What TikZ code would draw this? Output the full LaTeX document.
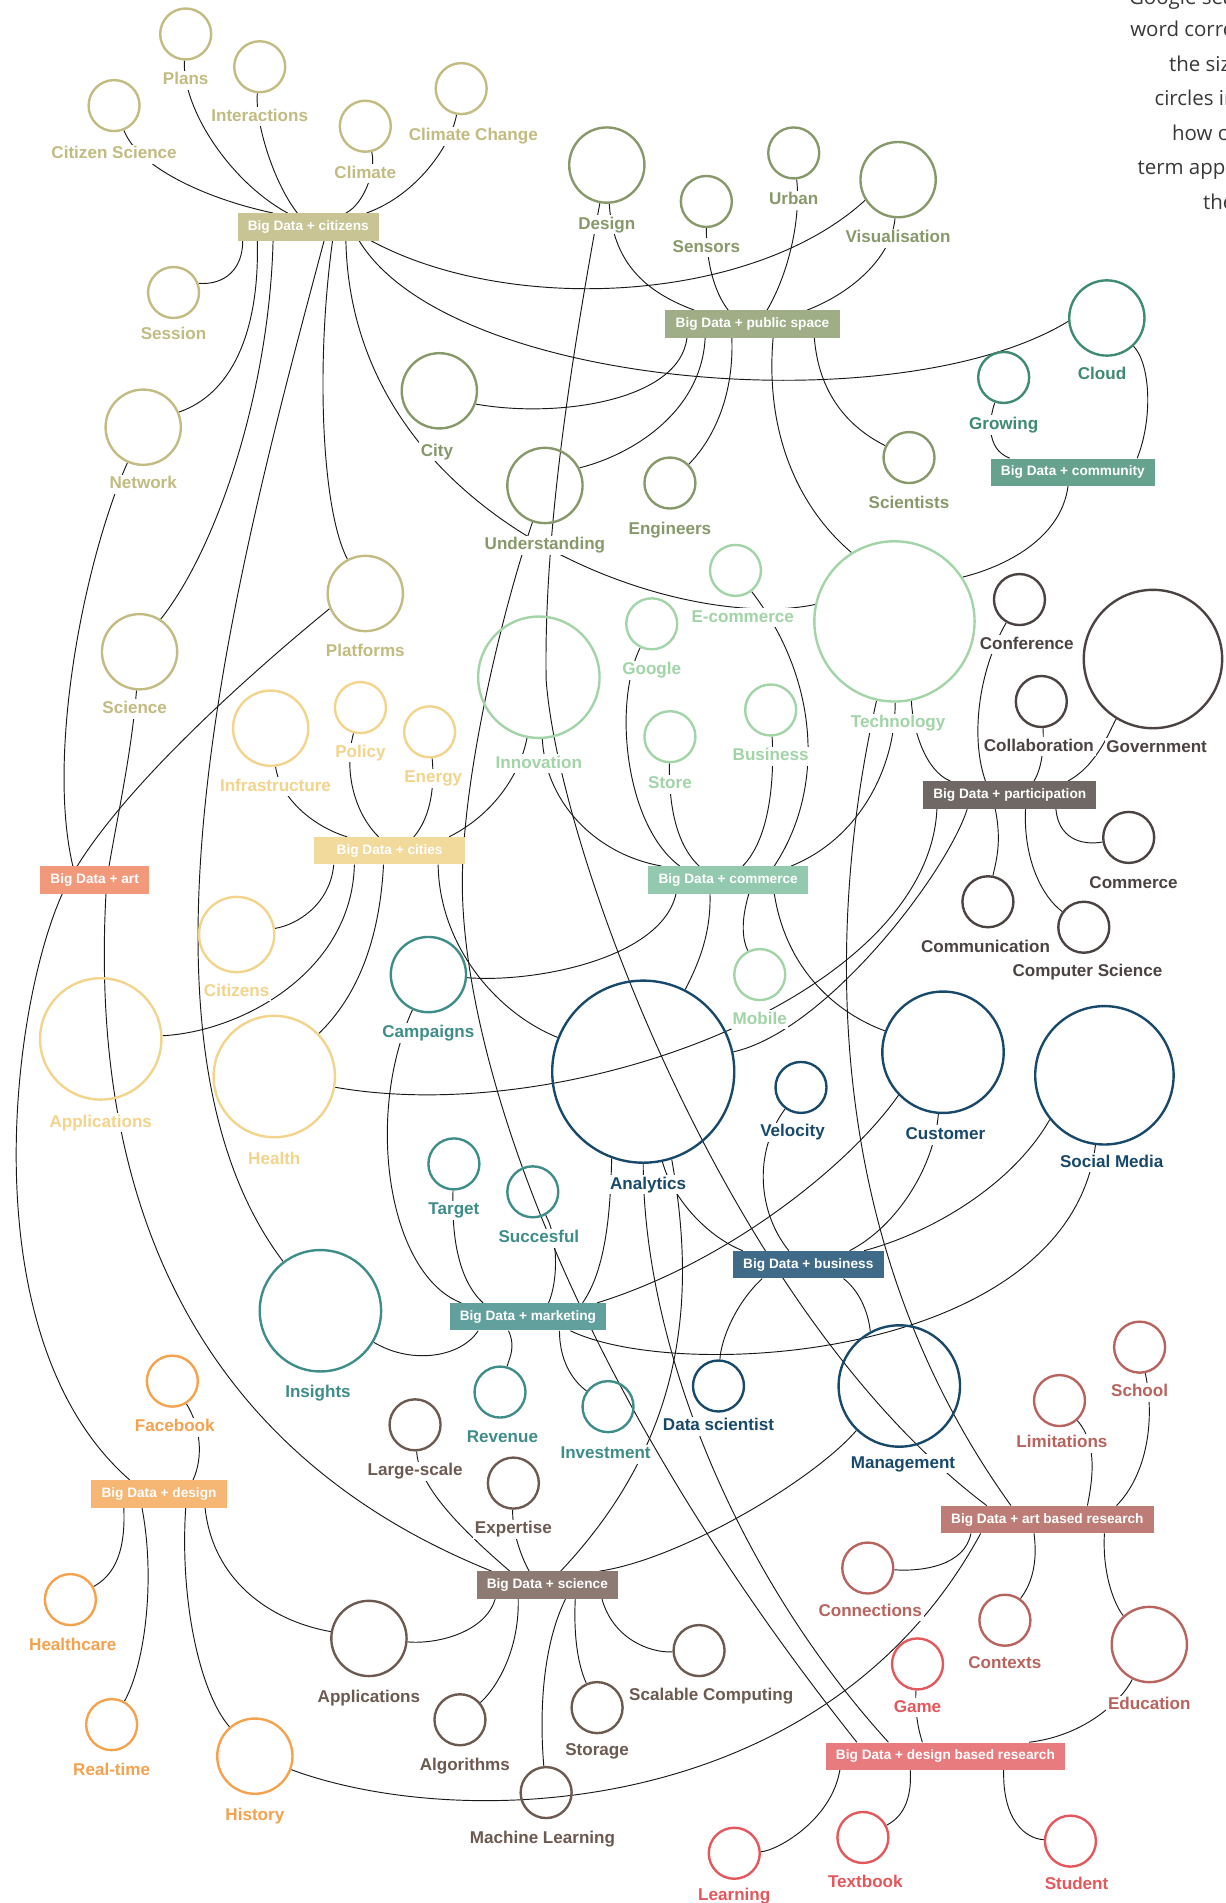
\documentclass[tikz,border=0pt]{standalone}
\usepackage{fontspec}
\setmainfont{Liberation Sans}
\newfontfamily\notefont{Open Sans}
\usetikzlibrary{positioning}

\definecolor{cit}{HTML}{C2BB82}\definecolor{citB}{HTML}{C8C493}
\definecolor{pub}{HTML}{87996A}\definecolor{pubB}{HTML}{9FAE86}
\definecolor{com}{HTML}{3E8A72}\definecolor{comB}{HTML}{66A28D}
\definecolor{cmr}{HTML}{A2D4A8}\definecolor{cmrB}{HTML}{93C9AE}
\definecolor{par}{HTML}{4B4341}\definecolor{parB}{HTML}{6F6864}
\definecolor{cty}{HTML}{F2D48C}\definecolor{ctyB}{HTML}{F2DA9C}
\definecolor{artB}{HTML}{F2997B}
\definecolor{mkt}{HTML}{3F8D88}\definecolor{mktB}{HTML}{62A09D}
\definecolor{bus}{HTML}{18496B}\definecolor{busB}{HTML}{3F6B89}
\definecolor{des}{HTML}{F5A24F}\definecolor{desB}{HTML}{F6B674}
\definecolor{sci}{HTML}{6C5950}\definecolor{sciB}{HTML}{8D7B73}
\definecolor{abr}{HTML}{B7635E}\definecolor{abrB}{HTML}{BE7C76}
\definecolor{dbr}{HTML}{E4575C}\definecolor{dbrB}{HTML}{E87B7E}

\pgfdeclarelayer{bg}
\pgfsetlayers{bg,main}

\tikzset{
  term/.style={circle, draw=#1, line width=1.4pt, inner sep=0pt},
  sm/.style={minimum size=1.05cm},
  md/.style={minimum size=1.55cm},
  lg/.style={minimum size=2.5cm},
  xl/.style={minimum size=2.85cm},
  word/.style={text=#1, fill=white, inner sep=1pt, text height=7.2pt, text depth=2pt,
    font=\bfseries\fontsize{10}{12}\selectfont},
  tag/.style={fill=#1, text=white, inner xsep=6pt, inner ysep=0pt, minimum height=0.56cm,
    font=\bfseries\fontsize{8}{9}\selectfont},
  link/.style={line width=0.55pt, black!90},
  note/.style={font=\notefont\fontsize{12}{14}\selectfont, text=black!78, inner sep=0pt}
}

\begin{document}
\begin{tikzpicture}[x=0.025cm, y=-0.025cm]
\useasboundingbox (0,0) rectangle (1010,1568);

% category boxes
\node[tag=citB] (citz) at (254,187) {Big Data + citizens};
\node[tag=pubB] (pubs) at (620,267) {Big Data + public space};
\node[tag=comB] (comm) at (884,389) {Big Data + community};
\node[tag=cmrB] (cmrc) at (600,725) {Big Data + commerce};
\node[tag=parB] (part) at (832,655) {Big Data + participation};
\node[tag=ctyB, minimum width=3.1cm] (ctys) at (321,701) {Big Data + cities};
\node[tag=artB] (arts) at (78,725) {Big Data + art};
\node[tag=mktB] (mktg) at (435,1085) {Big Data + marketing};
\node[tag=busB] (busn) at (666,1042) {Big Data + business};
\node[tag=desB] (dsgn) at (131,1231) {Big Data + design};
\node[tag=sciB] (scnc) at (451,1306) {Big Data + science};
\node[tag=abrB] (abrs) at (863,1252) {Big Data + art based research};
\node[tag=dbrB] (dbrs) at (779,1447) {Big Data + design based research};

% citizens
\node[term=cit, sm] (plans) at (153,28) {};
\node[term=cit, sm] (interact) at (214,55) {};
\node[term=cit, sm] (citsci) at (94,87) {};
\node[term=cit, sm] (climate) at (301,104) {};
\node[term=cit, sm] (climchg) at (380,73) {};
\node[term=cit, sm] (session) at (143,241) {};
\node[term=cit, md] (network) at (118,352) {};
\node[term=cit, md] (platforms) at (301,489) {};
\node[term=cit, md] (science) at (115,537) {};
% public space
\node[term=pub, md] (design) at (500,136) {};
\node[term=pub, sm] (sensors) at (582,166) {};
\node[term=pub, sm] (urban) at (654,126) {};
\node[term=pub, md] (visual) at (740,148) {};
\node[term=pub, md] (city) at (362,322) {};
\node[term=pub, md] (underst) at (449,400) {};
\node[term=pub, sm] (engineers) at (552,398) {};
\node[term=pub, sm] (scientists) at (749,377) {};
% community
\node[term=com, md] (cloud) at (912,262) {};
\node[term=com, sm] (growing) at (827,311) {};
% commerce
\node[term=cmr, sm] (ecommerce) at (606,470) {};
\node[term=cmr, sm] (google) at (537,514) {};
\node[term=cmr, minimum size=3.3cm] (technology) at (737,512) {};
\node[term=cmr, lg] (innovation) at (444,558) {};
\node[term=cmr, sm] (store) at (552,607) {};
\node[term=cmr, sm] (business) at (635,585) {};
\node[term=cmr, sm] (mobile) at (626,803) {};
% participation
\node[term=par, sm] (conference) at (840,494) {};
\node[term=par, xl] (govt) at (950,543) {};
\node[term=par, sm] (collab) at (858,578) {};
\node[term=par, sm] (commerce) at (930,690) {};
\node[term=par, sm] (communic) at (814,743) {};
\node[term=par, sm] (compsci) at (893,764) {};
% cities
\node[term=cty, md] (infra) at (223,600) {};
\node[term=cty, sm] (policy) at (297,583) {};
\node[term=cty, sm] (energy) at (354,603) {};
\node[term=cty, md] (citizens) at (195,770) {};
\node[term=cty, lg] (applic) at (83,856) {};
\node[term=cty, lg] (health) at (226,887) {};
% marketing
\node[term=mkt, md] (campaigns) at (353,803) {};
\node[term=mkt, sm] (target) at (374,959) {};
\node[term=mkt, sm] (succes) at (439,982) {};
\node[term=mkt, lg] (insights) at (264,1080) {};
\node[term=mkt, sm] (revenue) at (412,1147) {};
\node[term=mkt, sm] (invest) at (501,1159) {};
% business
\node[term=bus, minimum size=3.75cm] (analytics) at (530,883) {};
\node[term=bus, sm] (velocity) at (660,896) {};
\node[term=bus, lg] (customer) at (777,867) {};
\node[term=bus, xl] (socmed) at (910,886) {};
\node[term=bus, sm] (datasci) at (592,1142) {};
\node[term=bus, lg] (management) at (741,1142) {};
% design
\node[term=des, sm] (facebook) at (142,1138) {};
\node[term=des, sm] (healthcare) at (58,1318) {};
\node[term=des, sm] (realtime) at (92,1421) {};
\node[term=des, md] (history) at (210,1447) {};
% science
\node[term=sci, sm] (largesc) at (342,1174) {};
\node[term=sci, sm] (expertise) at (423,1222) {};
\node[term=sci, md] (applsci) at (304,1350) {};
\node[term=sci, sm] (scalable) at (576,1360) {};
\node[term=sci, sm] (algorithms) at (379,1417) {};
\node[term=sci, sm] (storage) at (492,1407) {};
\node[term=sci, sm] (machine) at (450,1477) {};
% art based research
\node[term=abr, sm] (school) at (939,1110) {};
\node[term=abr, sm] (limits) at (873,1154) {};
\node[term=abr, sm] (connections) at (715,1292) {};
\node[term=abr, sm] (contexts) at (828,1335) {};
\node[term=abr, md] (education) at (947,1355) {};
% design based research
\node[term=dbr, sm] (game) at (756,1371) {};
\node[term=dbr, sm] (learning) at (605,1527) {};
\node[term=dbr, sm] (textbook) at (711,1514) {};
\node[term=dbr, sm] (student) at (882,1517) {};

\coordinate (bendP) at (57,725);
\coordinate (bendS) at (88,725);
\coordinate (bendD) at (450,560);
\coordinate (bendU) at (381,720);

\begin{pgfonlayer}{bg}
% citizens
\draw[link] (citz.north -| 225,0) .. controls (175,165) and (115,140) .. (citsci);
\draw[link] (citz.north -| 237,0) .. controls (190,150) and (150,90) .. (plans);
\draw[link] (citz.north -| 245,0) .. controls (225,150) and (210,100) .. (interact);
\draw[link] (citz.north -| 285,0) .. controls (300,168) and (310,140) .. (climate);
\draw[link] (citz.north -| 302,0) .. controls (345,160) and (372,118) .. (climchg);
\draw[link] (citz.south -| 200,0) .. controls (200,222) and (185,235) .. (session.20);
\draw[link] (citz.south -| 212,0) .. controls (214,275) and (190,325) .. (network.23);
\draw[link] (citz.south -| 225,0) .. controls (222,320) and (180,450) .. (science.57);
\draw[link] (citz.south -| 267,0) .. controls (200,450) and (90,850) .. (insights);
\draw[link] (citz.south -| 274,0) .. controls (260,300) and (265,420) .. (platforms);
\draw[link] (citz.south -| 285,0) .. controls (290,430) and (560,522) .. (technology.168);
\draw[link] (citz.south -| 296,0) .. controls (370,320) and (740,350) .. (cloud.185);
\draw[link] (citz.south -| 306,0) .. controls (420,260) and (620,250) .. (visual.212);
% public space
\draw[link] (pubs.north -| 572,0) .. controls (530,240) and (505,215) .. (design);
\draw[link] (pubs.north -| 600,0) .. controls (588,240) and (582,215) .. (sensors);
\draw[link] (pubs.north -| 632,0) .. controls (650,225) and (660,180) .. (urban);
\draw[link] (pubs.north -| 665,0) .. controls (705,240) and (735,210) .. (visual);
\draw[link] (pubs.south -| 566,0) .. controls (560,330) and (460,345) .. (city.-20);
\draw[link] (pubs.south -| 581,0) .. controls (578,340) and (520,375) .. (underst.27);
\draw[link] (pubs.south -| 603,0) .. controls (605,330) and (585,365) .. (engineers);
\draw[link] (pubs.south -| 637,0) .. controls (630,360) and (660,420) .. (technology.122);
\draw[link] (pubs.south -| 671,0) .. controls (675,330) and (705,355) .. (scientists);
% community
\draw[link] (comm.north -| 832,0) .. controls (812,370) and (815,345) .. (growing);
\draw[link] (comm.north -| 937,0) .. controls (950,345) and (948,300) .. (cloud);
\draw[link] (comm.south -| 880,0) .. controls (875,440) and (835,465) .. (technology.33);
% commerce
\draw[link] (cmrc.north -| 545,0) .. controls (495,705) and (450,665) .. (innovation);
\draw[link] (cmrc.north -| 560,0) .. controls (515,680) and (505,580) .. (google);
\draw[link] (cmrc.north -| 576,0) .. controls (556,695) and (551,660) .. (store);
\draw[link] (cmrc.north -| 612,0) .. controls (635,690) and (638,640) .. (business);
\draw[link] (cmrc.north -| 638,0) .. controls (680,650) and (675,560) .. (ecommerce);
\draw[link] (cmrc.north -| 652,0) .. controls (710,690) and (738,630) .. (technology);
\draw[link] (cmrc.south -| 557,0) .. controls (545,790) and (440,810) .. (campaigns);
\draw[link] (cmrc.south -| 585,0) .. controls (586,770) and (575,795) .. (analytics);
\draw[link] (cmrc.south -| 617,0) .. controls (610,760) and (612,775) .. (mobile);
\draw[link] (cmrc.south -| 638,0) .. controls (648,800) and (690,835) .. (customer);
% participation
\draw[link] (part.north -| 783,0) .. controls (762,635) and (752,600) .. (technology.-78);
\draw[link] (part.north -| 812,0) .. controls (800,610) and (805,555) .. (conference);
\draw[link] (part.north -| 852,0) .. controls (860,630) and (860,610) .. (collab);
\draw[link] (part.north -| 880,0) .. controls (905,630) and (915,600) .. (govt);
\draw[link] (part.south -| 772,0) .. controls (765,820) and (470,930) .. (health);
\draw[link] (part.south -| 797,0) .. controls (780,720) and (680,850) .. (analytics);
\draw[link] (part.south -| 820,0) .. controls (826,695) and (820,712) .. (communic);
\draw[link] (part.south -| 845,0) .. controls (843,710) and (860,740) .. (compsci);
\draw[link] (part.south -| 870,0) .. controls (872,690) and (890,697) .. (commerce);
% cities
\draw[link] (ctys.north -| 286,0) .. controls (255,680) and (230,655) .. (infra);
\draw[link] (ctys.north -| 312,0) .. controls (292,670) and (283,635) .. (policy);
\draw[link] (ctys.north -| 341,0) .. controls (356,672) and (358,645) .. (energy);
\draw[link] (ctys.north -| 370,0) .. controls (405,672) and (428,640) .. (innovation);
\draw[link] (ctys.south -| 275,0) .. controls (272,745) and (245,762) .. (citizens);
\draw[link] (ctys.south -| 292,0) .. controls (290,800) and (200,850) .. (applic);
\draw[link] (ctys.south -| 316,0) .. controls (312,790) and (285,830) .. (health);
\draw[link] (ctys.south -| 361,0) .. controls (362,780) and (410,835) .. (analytics);
% art
\draw[link] (network) .. controls (70,460) and (38,620) .. (arts.north -| 60,0);
\draw[link] (platforms.203) .. controls (200,560) and (95,655) .. (bendP)
  .. controls (11,809) and (-30,1100) .. (dsgn.north -| 107,0);
\draw[link] (science) .. controls (108,625) and (95,680) .. (bendS)
  .. controls (70,1000) and (170,1200) .. (scnc.north -| 405,0);
% marketing
\draw[link] (mktg.north -| 380,0) .. controls (320,1050) and (300,920) .. (campaigns);
\draw[link] (mktg.north -| 398,0) .. controls (378,1055) and (372,1020) .. (target);
\draw[link] (mktg.north -| 452,0) .. controls (460,1055) and (460,1020) .. (succes);
\draw[link] (mktg.north -| 480,0) .. controls (500,1045) and (503,995) .. (analytics.250);
\draw[link] (mktg.north -| 492,0) .. controls (600,1040) and (700,960) .. (customer.224);
\draw[link] (mktg.south -| 394,0) .. controls (380,1118) and (340,1125) .. (insights);
\draw[link] (mktg.south -| 419,0) .. controls (425,1110) and (420,1118) .. (revenue);
\draw[link] (mktg.south -| 461,0) .. controls (461,1125) and (475,1140) .. (invest);
\draw[link] (mktg.south -| 470,0) .. controls (560,1140) and (880,1120) .. (socmed);
% business
\draw[link] (busn.north -| 612,0) .. controls (585,1020) and (555,990) .. (analytics.-78);
\draw[link] (busn.north -| 650,0) .. controls (625,1000) and (620,950) .. (velocity);
\draw[link] (busn.north -| 700,0) .. controls (740,1010) and (770,960) .. (customer);
\draw[link] (busn.north -| 712,0) .. controls (770,1015) and (835,975) .. (socmed.219);
\draw[link] (busn.south -| 628,0) .. controls (605,1075) and (594,1105) .. (datasci);
\draw[link] (busn.south -| 695,0) .. controls (710,1065) and (716,1085) .. (management.118);
\draw[link] (analytics.-72) .. controls (572,1060) and (570,1180) .. (scnc.north -| 462,0);
\draw[link] (analytics.-90) .. controls (530,1100) and (600,1290) .. (dbrs.north -| 732,0);
\draw[link] (scnc.north -| 494,0) .. controls (560,1285) and (670,1220) .. (management.226);
% design
\draw[link] (dsgn.north -| 159,0) .. controls (168,1200) and (165,1175) .. (facebook);
\draw[link] (dsgn.south -| 102,0) .. controls (104,1285) and (90,1300) .. (healthcare);
\draw[link] (dsgn.south -| 117,0) .. controls (128,1300) and (120,1370) .. (realtime);
\draw[link] (dsgn.south -| 153,0) .. controls (148,1320) and (165,1395) .. (history);
\draw[link] (dsgn.south -| 169,0) .. controls (175,1300) and (220,1335) .. (applsci);
% science
\draw[link] (scnc.north -| 420,0) .. controls (380,1260) and (345,1225) .. (largesc);
\draw[link] (scnc.north -| 436,0) .. controls (428,1280) and (422,1260) .. (expertise);
\draw[link] (scnc.south -| 408,0) .. controls (400,1345) and (360,1355) .. (applsci);
\draw[link] (scnc.south -| 427,0) .. controls (428,1365) and (405,1395) .. (algorithms);
\draw[link] (scnc.south -| 466,0) .. controls (445,1360) and (445,1420) .. (machine);
\draw[link] (scnc.south -| 474,0) .. controls (472,1360) and (480,1380) .. (storage);
\draw[link] (scnc.south -| 496,0) .. controls (505,1350) and (535,1362) .. (scalable);
% art based research
\draw[link] (design) .. controls (470,300) and (448,440) .. (bendD)
  .. controls (460,700) and (600,1080) .. (abrs.north -| 813,0);
\draw[link] (technology) .. controls (690,720) and (660,1000) .. (abrs.north -| 833,0);
\draw[link] (abrs.north -| 896,0) .. controls (900,1220) and (905,1190) .. (limits);
\draw[link] (abrs.north -| 920,0) .. controls (945,1215) and (952,1170) .. (school);
\draw[link] (abrs.south -| 800,0) .. controls (795,1290) and (760,1295) .. (connections);
\draw[link] (history) .. controls (380,1510) and (680,1500) .. (abrs.south -| 808,0);
\draw[link] (abrs.south -| 852,0) .. controls (856,1295) and (846,1310) .. (contexts);
\draw[link] (abrs.south -| 910,0) .. controls (908,1300) and (920,1325) .. (education);
% design based research
\draw[link] (underst) .. controls (415,500) and (383,630) .. (bendU)
  .. controls (378,850) and (455,1120) .. (dbrs.north -| 706,0);
\draw[link] (dbrs.north -| 760,0) .. controls (755,1420) and (754,1405) .. (game);
\draw[link] (dbrs.north -| 848,0) .. controls (895,1430) and (925,1400) .. (education);
\draw[link] (dbrs.south -| 692,0) .. controls (685,1500) and (640,1525) .. (learning);
\draw[link] (dbrs.south -| 750,0) .. controls (752,1490) and (738,1500) .. (textbook);
\draw[link] (dbrs.south -| 827,0) .. controls (826,1500) and (845,1515) .. (student);
\end{pgfonlayer}

% labels
\node[word=cit, below=0.2cm of plans] (t-plans) {Plans};
\node[word=cit, below=0.275cm of interact] (t-interact) {Interactions};
\node[word=cit, below=0.25cm of citsci] (t-citsci) {Citizen Science};
\node[word=cit, below=0.225cm of climate] (t-climate) {Climate};
\node[word=cit, below=0.225cm of climchg, xshift=0.25cm] (t-climchg) {Climate Change};
\node[word=cit, below=0.125cm of session] (t-session) {Session};
\node[word=cit, below=0.175cm of network] (t-network) {Network};
\node[word=cit, below=0.2cm of platforms] (t-platforms) {Platforms};
\node[word=cit, below=0.175cm of science, xshift=-0.1cm] (t-science) {Science};
\node[word=pub, below=0.225cm of design] (t-design) {Design};
\node[word=pub, below=0.2cm of sensors] (t-sensors) {Sensors};
\node[word=pub, below=0.225cm of urban] (t-urban) {Urban};
\node[word=pub, below=0.2cm of visual] (t-visual) {Visualisation};
\node[word=pub, below=0.25cm of city, xshift=-0.05cm] (t-city) {City};
\node[word=pub, below=0.225cm of underst] (t-underst) {Understanding};
\node[word=pub, below=0.225cm of engineers] (t-engineers) {Engineers};
\node[word=pub, below=0.2cm of scientists] (t-scientists) {Scientists};
\node[word=com, below=0.175cm of cloud, xshift=-0.1cm] (t-cloud) {Cloud};
\node[word=com, below=0.225cm of growing] (t-growing) {Growing};
\node[word=cmr, below=0.225cm of ecommerce, xshift=0.15cm] (t-ecommerce) {E-commerce};
\node[word=cmr, below=0.2cm of google] (t-google) {Google};
\node[word=cmr, below=0.225cm of technology, xshift=0.075cm] (t-technology) {Technology};
\node[word=cmr, below=0.3cm of innovation] (t-innovation) {Innovation};
\node[word=cmr, below=0.225cm of store] (t-store) {Store};
\node[word=cmr, below=0.2cm of business] (t-business) {Business};
\node[word=cmr, below=0.175cm of mobile] (t-mobile) {Mobile};
\node[word=par, below=0.175cm of conference, xshift=0.15cm] (t-conference) {Conference};
\node[word=par, below=0.175cm of govt, xshift=0.075cm] (t-govt) {Government};
\node[word=par, below=0.175cm of collab, xshift=-0.05cm] (t-collab) {Collaboration};
\node[word=par, below=0.2cm of commerce, xshift=0.1cm] (t-commerce) {Commerce};
\node[word=par, below=0.2cm of communic, xshift=-0.05cm] (t-communic) {Communication};
\node[word=par, below=0.175cm of compsci, xshift=0.075cm] (t-compsci) {Computer Science};
\node[word=cty, below=0.2cm of infra, xshift=0.1cm] (t-infra) {Infrastructure};
\node[word=cty, below=0.175cm of policy] (t-policy) {Policy};
\node[word=cty, below=0.2cm of energy, xshift=0.075cm] (t-energy) {Energy};
\node[word=cty, below=0.175cm of citizens] (t-citizens) {Citizens};
\node[word=cty, below=0.25cm of applic] (t-applic) {Applications};
\node[word=cty, below=0.25cm of health] (t-health) {Health};
\node[word=mkt, below=0.2cm of campaigns] (t-campaigns) {Campaigns};
\node[word=mkt, below=0.2cm of target] (t-target) {Target};
\node[word=mkt, below=0.2cm of succes, xshift=0.125cm] (t-succes) {Succesful};
\node[word=mkt, below=0.225cm of insights, xshift=-0.05cm] (t-insights) {Insights};
\node[word=mkt, below=0.2cm of revenue, xshift=0.05cm] (t-revenue) {Revenue};
\node[word=mkt, below=0.225cm of invest, xshift=-0.05cm] (t-invest) {Investment};
\node[word=bus, below=0.225cm of analytics, xshift=0.1cm] (t-analytics) {Analytics};
\node[word=bus, below=0.175cm of velocity, xshift=-0.175cm] (t-velocity) {Velocity};
\node[word=bus, below=0.225cm of customer, xshift=0.05cm] (t-customer) {Customer};
\node[word=bus, below=0.15cm of socmed, xshift=0.15cm] (t-socmed) {Social Media};
\node[word=bus, below=0.075cm of datasci] (t-datasci) {Data scientist};
\node[word=bus, below=0.125cm of management, xshift=0.075cm] (t-management) {Management};
\node[word=des, below=0.2cm of facebook, xshift=0.05cm] (t-facebook) {Facebook};
\node[word=des, below=0.2cm of healthcare, xshift=0.05cm] (t-healthcare) {Healthcare};
\node[word=des, below=0.2cm of realtime] (t-realtime) {Real-time};
\node[word=des, below=0.225cm of history] (t-history) {History};
\node[word=sci, below=0.2cm of largesc] (t-largesc) {Large-scale};
\node[word=sci, below=0.2cm of expertise] (t-expertise) {Expertise};
\node[word=sci, below=0.225cm of applsci] (t-applsci) {Applications};
\node[word=sci, below=0.175cm of scalable, xshift=0.25cm] (t-scalable) {Scalable Computing};
\node[word=sci, below=0.2cm of algorithms, xshift=0.1cm] (t-algorithms) {Algorithms};
\node[word=sci, below=0.15cm of storage] (t-storage) {Storage};
\node[word=sci, below=0.2cm of machine, xshift=-0.075cm] (t-machine) {Machine Learning};
\node[word=abr, below=0.175cm of school] (t-school) {School};
\node[word=abr, below=0.125cm of limits, xshift=0.05cm] (t-limits) {Limitations};
\node[word=abr, below=0.15cm of connections, xshift=0.05cm] (t-connections) {Connections};
\node[word=abr, below=0.15cm of contexts] (t-contexts) {Contexts};
\node[word=abr, below=0.25cm of education] (t-education) {Education};
\node[word=dbr, below=0.15cm of game] (t-game) {Game};
\node[word=dbr, below=0.125cm of learning] (t-learning) {Learning};
\node[word=dbr, below=0.175cm of textbook, xshift=0.05cm] (t-textbook) {Textbook};
\node[word=dbr, below=0.15cm of student, xshift=0.125cm] (t-student) {Student};

% note, cut by the right edge as in the original
\begin{scope}
\clip (0,0) rectangle (1010,1568);
\node[note, anchor=base west] (note1) at (930,4) {Google sea};
\node[note, anchor=base west] (note2) at (931,30) {word corre};
\node[note, anchor=base west] (note3) at (963,58.5) {the size};
\node[note, anchor=base west] (note4) at (951,87) {circles in};
\node[note, anchor=base west] (note5) at (965.5,115.5) {how of};
\node[note, anchor=base west] (note6) at (937,144) {term appe};
\node[note, anchor=base west] (note7) at (991,172.5) {the};
\end{scope}
\end{tikzpicture}
\end{document}
